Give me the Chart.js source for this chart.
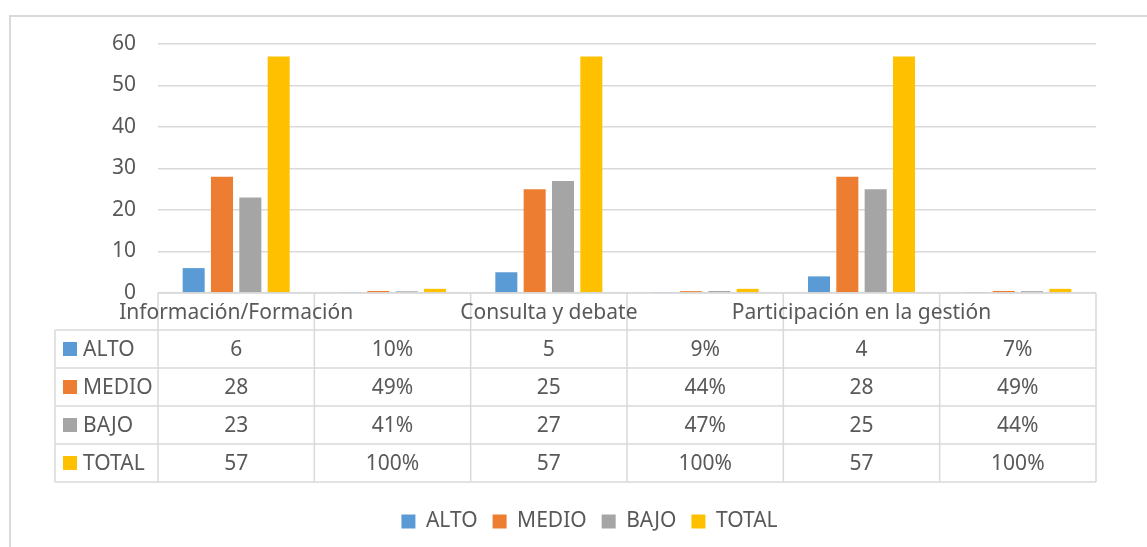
<!DOCTYPE html>
<html>
<head>
<meta charset="utf-8">
<script src="https://cdn.jsdelivr.net/npm/chart.js@4/dist/chart.umd.min.js"></script>
<style>
  html, body { margin: 0; padding: 0; background: #fff; }
  canvas { display: block; }
</style>
</head>
<body>
<canvas id="chart" width="1147" height="547"></canvas>
<script>
// Data
const categories = ['Información/Formación', '', 'Consulta y debate', '', 'Participación en la gestión', ''];
const seriesNames = ['ALTO', 'MEDIO', 'BAJO', 'TOTAL'];
const alto = [6, 0.10, 5, 0.09, 4, 0.07];
const medio = [28, 0.49, 25, 0.44, 28, 0.49];
const bajo = [23, 0.41, 27, 0.47, 25, 0.44];
const total = [57, 1.00, 57, 1.00, 57, 1.00];
const colors = ['#5B9BD5', '#ED7D31', '#A5A5A5', '#FFC000'];

const textColor = '#595959';
const lineColor = '#d9d9d9';
const fontFamily = '"Noto Sans", Lato, sans-serif';
const fontSize = 21;

const seriesValues = [alto, medio, bajo, total];

function cellText(v, col) {
    return col % 2 === 1 ? Math.round(v * 100) + '%' : String(v);
}

// --- TABLE + FRAME PLUGIN ---
const dataTable = {
    id: 'dataTable',
    beforeDraw(chart) {
        const ctx = chart.ctx;
        ctx.save();
        ctx.fillStyle = '#fff';
        ctx.fillRect(0, 0, chart.width, chart.height);
        ctx.strokeStyle = lineColor;
        ctx.lineWidth = 2;
        ctx.beginPath();
        ctx.moveTo(10, chart.height + 5);
        ctx.lineTo(10, 16);
        ctx.lineTo(chart.width + 5, 16);
        ctx.stroke();
        ctx.restore();
    },
    afterDraw(chart) {
        const ctx = chart.ctx;
        const xs = chart.scales.x;
        const area = chart.chartArea;
        const half = (xs.getPixelForValue(1) - xs.getPixelForValue(0)) / 2;
        const top = area.bottom;
        const headH = 37;
        const rowH = 38;
        const labelLeft = 55;
        const rowsTop = top + headH;
        const bottom = rowsTop + rowH * seriesNames.length;

        ctx.save();
        ctx.strokeStyle = lineColor;
        ctx.lineWidth = 1.5;
        ctx.beginPath();
        // header top (axis line)
        ctx.moveTo(area.left, top);
        ctx.lineTo(area.right, top);
        // row lines
        for (let r = 0; r <= seriesNames.length; r++) {
            const y = rowsTop + r * rowH;
            ctx.moveTo(labelLeft, y);
            ctx.lineTo(area.right, y);
        }
        // column lines
        ctx.moveTo(labelLeft, rowsTop);
        ctx.lineTo(labelLeft, bottom);
        for (let i = 0; i <= categories.length; i++) {
            const x = xs.getPixelForValue(0) - half + i * 2 * half;
            ctx.moveTo(x, top);
            ctx.lineTo(x, bottom);
        }
        ctx.stroke();

        ctx.fillStyle = textColor;
        ctx.font = fontSize + 'px ' + fontFamily;
        ctx.textBaseline = 'middle';
        ctx.textAlign = 'center';
        categories.forEach((c, i) => {
            if (c) ctx.fillText(c, xs.getPixelForValue(i), top + headH / 2 + 2);
        });

        seriesNames.forEach((name, r) => {
            const cy = rowsTop + r * rowH + rowH / 2;
            ctx.fillStyle = colors[r];
            ctx.fillRect(63, cy - 7, 14, 14);
            ctx.fillStyle = textColor;
            ctx.textAlign = 'left';
            ctx.fillText(name, 83, cy + 1);
            ctx.textAlign = 'center';
            seriesValues[r].forEach((v, i) => {
                ctx.fillText(cellText(v, i), xs.getPixelForValue(i), cy + 1);
            });
        });
        ctx.restore();
    }
};

new Chart(document.getElementById('chart'), {
    type: 'bar',
    data: {
        labels: categories,
        datasets: seriesNames.map((name, i) => ({
            label: name,
            data: seriesValues[i],
            backgroundColor: colors[i],
            categoryPercentage: 0.725,
            barPercentage: 0.777
        }))
    },
    options: {
        responsive: false,
        animation: false,
        layout: { padding: { left: 83, right: 51, top: 44, bottom: 5 } },
        plugins: {
            tooltip: { enabled: false },
            legend: {
                position: 'bottom',
                labels: {
                    boxWidth: 14,
                    boxHeight: 14,
                    padding: 15,
                    color: textColor,
                    font: { family: fontFamily, size: fontSize }
                }
            }
        },
        scales: {
            x: {
                grid: { display: false },
                border: { display: false },
                ticks: { display: false },
                afterFit: s => { s.height = 203; }
            },
            y: {
                min: 0,
                max: 60,
                ticks: {
                    stepSize: 10,
                    padding: 22,
                    color: textColor,
                    font: { family: fontFamily, size: fontSize }
                },
                grid: { color: lineColor, lineWidth: 1.5, drawTicks: false },
                border: { display: false },
                afterFit: s => { s.width = 75; }
            }
        }
    },
    plugins: [dataTable]
});
</script>
</body>
</html>
